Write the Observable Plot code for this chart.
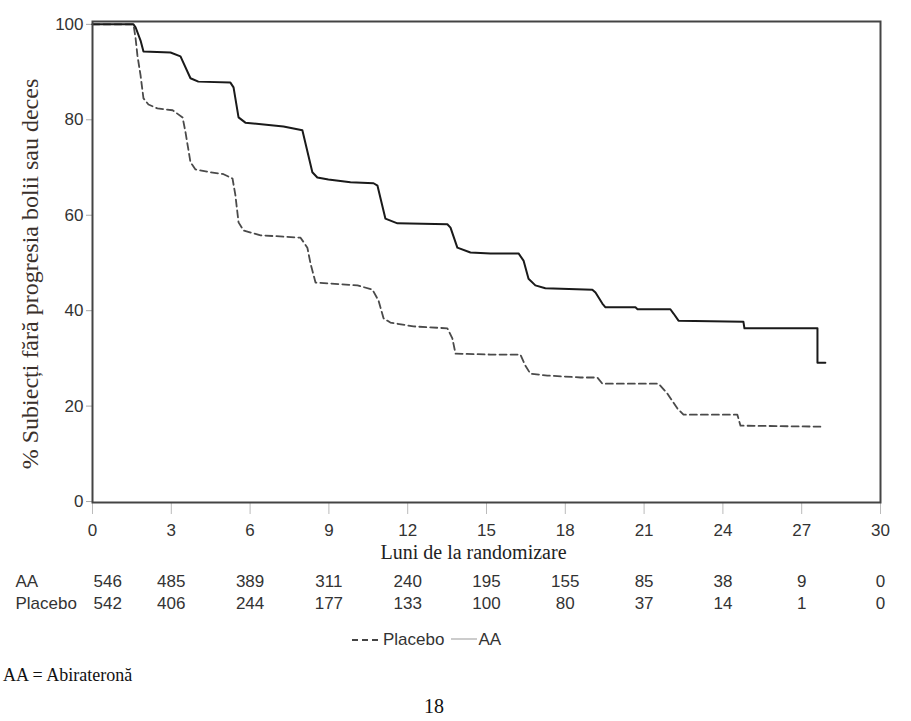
<!DOCTYPE html>
<html>
<head>
<meta charset="utf-8">
<script src="https://cdn.jsdelivr.net/npm/d3@7"></script>
<script src="https://cdn.jsdelivr.net/npm/@observablehq/plot@0.6"></script>
<style>
  html, body { margin: 0; padding: 0; background: #fff; }
  #wrap { position: relative; width: 911px; height: 721px; overflow: hidden; }
  #legend { position: absolute; top: 630px; left: 352px; height: 20px; display: flex; align-items: center;
            font-family: "Liberation Sans", Arial, sans-serif; font-size: 17px; color: #333; }
  #legend svg { display: block; }
  #note { position: absolute; top: 665px; left: 3px; font-family: "Liberation Serif", "Times New Roman", serif; font-size: 18px; color: #111; }
  #page { position: absolute; top: 695px; left: 0; width: 868px; text-align: center; font-family: "Liberation Serif", "Times New Roman", serif; font-size: 20px; color: #111; }
</style>
</head>
<body>
<div id="wrap"></div>
<script>
// ---- data ----
const tickMonths = [0, 3, 6, 9, 12, 15, 18, 21, 24, 27, 30];
const yTicks = [0, 20, 40, 60, 80, 100];
const atRiskAA = [546, 485, 389, 311, 240, 195, 155, 85, 38, 9, 0];
const atRiskPlacebo = [542, 406, 244, 177, 133, 100, 80, 37, 14, 1, 0];
const groupNames = ["AA", "Placebo"];

const aaMonths = [0, 1.56, 1.64, 1.83, 1.94, 2.97, 3.35, 3.73, 4.03, 5.25, 5.37, 5.56, 5.82, 7.27, 7.99, 8.37, 8.56, 8.98, 9.82, 10.7, 10.85, 11.15, 11.61, 13.51, 13.63, 13.89, 14.39, 15.15, 16.22, 16.41, 16.6, 16.86, 17.24, 19.03, 19.15, 19.41, 19.53, 20.67, 20.75, 22.0, 22.12, 22.31, 24.78, 24.82, 27.6, 27.6, 27.9];
const aaSurv = [100, 100, 99.4, 96.6, 94.3, 94.1, 93.3, 88.7, 88.0, 87.8, 86.8, 80.5, 79.4, 78.6, 77.8, 69.0, 67.9, 67.5, 66.9, 66.7, 66.2, 59.3, 58.3, 58.1, 57.4, 53.2, 52.2, 52.0, 52.0, 50.5, 46.7, 45.3, 44.7, 44.4, 43.8, 41.5, 40.7, 40.7, 40.3, 40.3, 39.4, 37.9, 37.7, 36.3, 36.3, 29.1, 29.1];

const placeboMonths = [0, 1.56, 1.64, 1.71, 1.83, 1.94, 2.13, 2.47, 3.05, 3.43, 3.54, 3.73, 3.92, 4.49, 4.99, 5.33, 5.44, 5.56, 5.75, 6.40, 7.92, 8.18, 8.30, 8.49, 9.06, 10.09, 10.66, 10.89, 11.08, 11.34, 12.22, 13.51, 13.70, 13.82, 15.15, 16.29, 16.48, 16.67, 17.32, 18.58, 19.22, 19.41, 21.55, 21.89, 22.27, 22.50, 24.55, 24.67, 27.71];
const placeboSurv = [100, 100, 97.1, 93.5, 89.3, 84.5, 83.2, 82.4, 82.0, 80.5, 77.4, 71.1, 69.6, 69.0, 68.6, 67.7, 64.2, 58.5, 56.8, 55.8, 55.3, 53.2, 49.9, 45.9, 45.7, 45.3, 44.4, 42.1, 38.4, 37.5, 36.7, 36.3, 34.2, 31.0, 30.8, 30.8, 28.5, 26.8, 26.4, 26.0, 26.0, 24.7, 24.7, 22.6, 19.5, 18.2, 18.2, 15.9, 15.7];

const yLabel = "% Subiecți fără progresia bolii sau deces";
const xLabel = "Luni de la randomizare";

// ---- tables built from arrays ----
const aaData = aaMonths.map((m, i) => ({month: m, surv: aaSurv[i]}));
const placeboData = placeboMonths.map((m, i) => ({month: m, surv: placeboSurv[i]}));
const riskAA = tickMonths.map((m, i) => ({month: m, n: atRiskAA[i]}));
const riskPl = tickMonths.map((m, i) => ({month: m, n: atRiskPlacebo[i]}));

const sans = "'Liberation Sans', Arial, sans-serif";
const serif = "'Liberation Serif', 'Times New Roman', serif";

const chart = Plot.plot({
  width: 911,
  height: 620,
  marginTop: 21,
  marginLeft: 92,
  marginRight: 31,
  marginBottom: 118,
  style: {fontFamily: sans, fontSize: "17px", background: "#fff", overflow: "visible"},
  x: {domain: [0, 30]},
  y: {domain: [-0.2, 100.6]},
  marks: [
    Plot.axisY({ticks: yTicks, tickSize: 6, tickPadding: 3, stroke: "#aaa", fill: "#333", label: null, fontSize: 17}),
    Plot.axisX({ticks: tickMonths, tickSize: 12, tickPadding: 9, stroke: "#bbb", fill: "#333", label: null, fontSize: 17}),
    Plot.line(placeboData, {x: "month", y: "surv", stroke: "#4a4a4a", strokeWidth: 1.8, strokeDasharray: "7,4"}),
    Plot.line(aaData, {x: "month", y: "surv", stroke: "#1a1a1a", strokeWidth: 2}),
    Plot.frame({stroke: "#444", strokeWidth: 2}),
    Plot.text([yLabel], {text: d => d, frameAnchor: "left", textAnchor: "middle", lineAnchor: "middle", rotate: -90, dx: -62, dy: 12, fontFamily: serif, fontSize: 24, fill: "#3a302b"}),
    Plot.text([xLabel], {text: d => d, frameAnchor: "bottom", textAnchor: "middle", lineAnchor: "middle", dy: 50, dx: -13, fontFamily: serif, fontSize: 20, fill: "#222"}),
    // numbers at risk
    Plot.text([groupNames[0]], {text: d => d, frameAnchor: "bottom-left", textAnchor: "start", lineAnchor: "middle", dx: -77, dy: 79, fill: "#333", fontSize: 17}),
    Plot.text([groupNames[1]], {text: d => d, frameAnchor: "bottom-left", textAnchor: "start", lineAnchor: "middle", dx: -77, dy: 101, fill: "#333", fontSize: 17}),
    Plot.text(riskAA.slice(0, 1), {x: "month", text: "n", frameAnchor: "bottom", textAnchor: "start", lineAnchor: "middle", dx: 1, dy: 79, fill: "#333", fontSize: 17}),
    Plot.text(riskAA.slice(1), {x: "month", text: "n", frameAnchor: "bottom", lineAnchor: "middle", dy: 79, fill: "#333", fontSize: 17}),
    Plot.text(riskPl.slice(0, 1), {x: "month", text: "n", frameAnchor: "bottom", textAnchor: "start", lineAnchor: "middle", dx: 1, dy: 101, fill: "#333", fontSize: 17}),
    Plot.text(riskPl.slice(1), {x: "month", text: "n", frameAnchor: "bottom", lineAnchor: "middle", dy: 101, fill: "#333", fontSize: 17})
  ]
});

const wrap = document.getElementById("wrap");
wrap.appendChild(chart);

const legend = document.createElement("div");
legend.id = "legend";
legend.innerHTML =
  '<svg width="29" height="10"><line x1="0" x2="29" y1="5" y2="5" stroke="#444" stroke-width="2" stroke-dasharray="6,4"/></svg>' +
  '<span style="margin-left:2px">' + groupNames[1] + '</span>' +
  '<svg width="26" height="10" style="margin-left:7px"><line x1="0" x2="26" y1="4" y2="4" stroke="#aaa" stroke-width="1.2"/></svg>' +
  '<span style="margin-left:1px">' + groupNames[0] + '</span>';
wrap.appendChild(legend);

const note = document.createElement("div");
note.id = "note";
note.textContent = "AA = Abirateronă";
wrap.appendChild(note);

const page = document.createElement("div");
page.id = "page";
page.textContent = "18";
wrap.appendChild(page);
</script>
</body>
</html>
